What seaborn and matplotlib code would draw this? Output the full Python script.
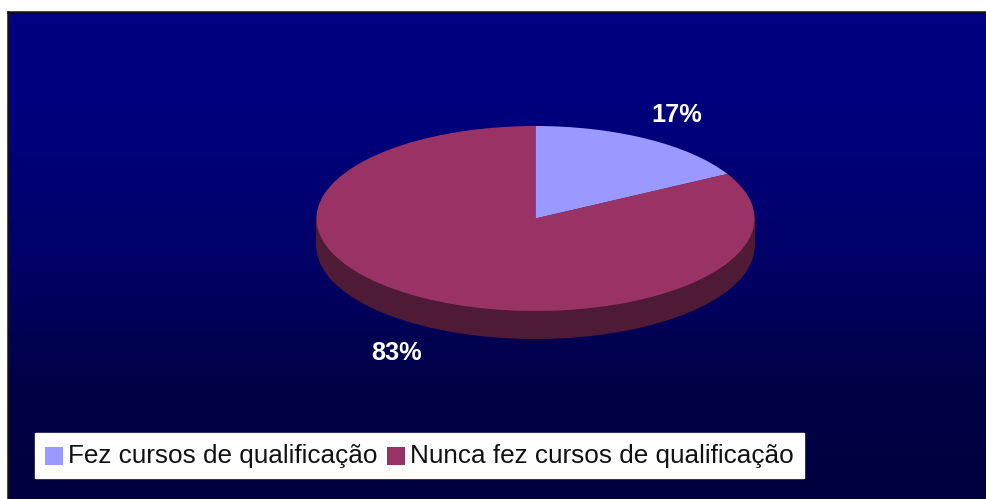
import numpy as np
import seaborn as sns
import matplotlib.pyplot as plt

# dados do grafico
categorias = ['Fez cursos de qualificação', 'Nunca fez cursos de qualificação']
valores = [17, 83]
rotulos = ['17%', '83%']
cores = ['#9999FF', '#993366']
cores_lateral = ['#4F1A35', '#4F1A35']

W, H = 986, 499

sns.set_theme(style='white')
plt.rcParams['font.family'] = ['Liberation Sans', 'DejaVu Sans']

fig = plt.figure(figsize=(W / 100, H / 100), dpi=100, facecolor='white')


def caixa(x0, y0, x1, y1):
    # pixels da imagem (origem no topo) para fracao da figura
    return [x0 / W, 1 - y1 / H, (x1 - x0) / W, (y1 - y0) / H]


# fundo em degrade
fundo = fig.add_axes(caixa(8, 12, W, H))
grad = np.linspace(0, 1, 256).reshape(-1, 1)
cmap = sns.blend_palette(['#000080', '#00007A', '#000068', '#000048', '#00003E'], as_cmap=True)
sns.heatmap(grad, cmap=cmap, cbar=False, xticklabels=False, yticklabels=False, ax=fundo)
sns.despine(ax=fundo, right=True, bottom=True, left=False, top=False)
for lado in ['left', 'top']:
    fundo.spines[lado].set_visible(True)
    fundo.spines[lado].set_color('#111111')
    fundo.spines[lado].set_linewidth(1.8)

# pizza "achatada": raio 1 = elipse do topo
ax = fig.add_axes(caixa(316.5, 126, 754.5, 311))
ax.patch.set_alpha(0)
prof = 28 / 92.5
for d in np.linspace(prof, 0.01, 30):
    ax.pie(valores, colors=cores_lateral, startangle=90, counterclock=False,
           center=(0, -d), radius=1, wedgeprops={'clip_on': False, 'linewidth': 0})
fatias, _ = ax.pie(valores, colors=cores, startangle=90, counterclock=False,
                   center=(0, 0), radius=1, labels=None,
                   wedgeprops={'clip_on': False, 'linewidth': 0})
ax.set_aspect('auto')
ax.set_xlim(-1, 1)
ax.set_ylim(-1, 1)

ax.text(0.644, 1.124, rotulos[0], color='white', fontsize=18.3, fontweight='bold',
        ha='center', va='center', clip_on=False)
ax.text(-0.635, -1.459, rotulos[1], color='white', fontsize=18.3, fontweight='bold',
        ha='center', va='center', clip_on=False)

leg = ax.legend(fatias, categorias, ncol=2, loc='lower left',
                bbox_to_anchor=(35 / W, 1 - 478 / H), bbox_transform=fig.transFigure,
                borderaxespad=0, frameon=True, fancybox=False, framealpha=1,
                facecolor='white', edgecolor='white', fontsize=18.8,
                handlelength=0.66, handleheight=0.66, handletextpad=0.2,
                columnspacing=0.38, borderpad=0.4, labelcolor='#111111')
for h in leg.get_patches():
    h.set_y(h.get_y() - 2)

fig.savefig('out.png', dpi=100, facecolor='white')
